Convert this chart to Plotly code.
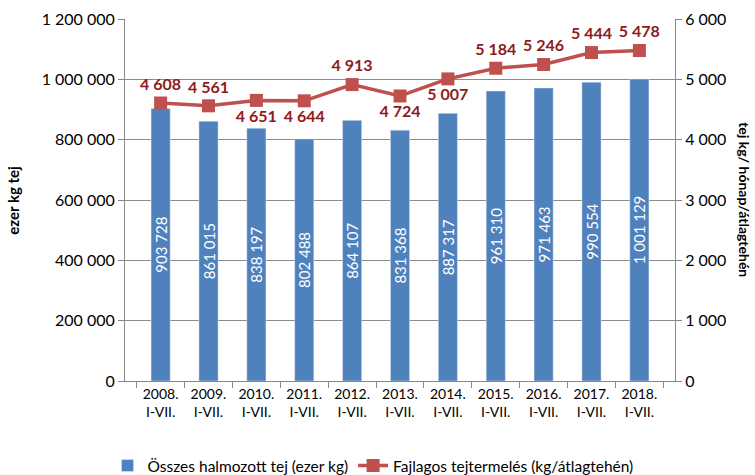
import plotly.graph_objects as go

categories = ["2008.<br>I-VII.", "2009.<br>I-VII.", "2010.<br>I-VII.", "2011.<br>I-VII.",
              "2012.<br>I-VII.", "2013.<br>I-VII.", "2014.<br>I-VII.", "2015.<br>I-VII.",
              "2016.<br>I-VII.", "2017.<br>I-VII.", "2018.<br>I-VII."]
total_milk = [903728, 861015, 838197, 802488, 864107, 831368, 887317, 961310, 971463, 990554, 1001129]
per_cow = [4608, 4561, 4651, 4644, 4913, 4724, 5007, 5184, 5246, 5444, 5478]
label_pos = ["top center", "top center", "bottom center", "bottom center", "top center",
             "bottom center", "bottom center", "top center", "top center", "top center", "top center"]

FONT = "Lato"
fig = go.Figure()
fig.add_trace(go.Bar(
    x=categories, y=total_milk, name="Összes halmozott tej (ezer kg)",
    marker=dict(color="#4F81BD"),
    text=[f"{v:,}".replace(",", " ") for v in total_milk],
    textposition="inside", insidetextanchor="middle", textangle=-90,
    textfont=dict(color="white", size=15, family=FONT),
    hoverinfo="skip",
))
fig.add_trace(go.Scatter(
    x=categories, y=per_cow, name="Fajlagos tejtermelés (kg/átlagtehén)", yaxis="y2",
    mode="lines+markers+text",
    line=dict(color="#C0504D", width=3.5),
    marker=dict(symbol="square", size=13, color="#C0504D"),
    text=[f"{v:,}".replace(",", " ") for v in per_cow],
    textposition=label_pos,
    textfont=dict(color="#8E1B1B", size=16, family=FONT, weight="bold"),
))
fig.update_layout(
    width=755, height=475,
    margin=dict(l=125, r=80, t=19, b=94, autoexpand=False),
    paper_bgcolor="white", plot_bgcolor="white",
    separators=", ",
    font=dict(family=FONT, size=15, color="black"),
    bargap=0.6,
    uniformtext=dict(minsize=15, mode="show"),
    showlegend=True,
    legend=dict(orientation="h", x=0.451, xanchor="center", yref="container", y=0.0547,
                yanchor="top", font=dict(size=15.5), tracegroupgap=0),
    xaxis=dict(showline=True, linecolor="#888888", ticks="outside", tickcolor="#888888",
               ticklen=6, tickson="boundaries", tickfont=dict(size=14), automargin=False),
    yaxis=dict(range=[0, 1200000], dtick=200000, tickformat=",d", showgrid=True,
               gridcolor="#8C8C8C", showline=True, linecolor="#888888", ticks="outside",
               tickcolor="#888888", ticklen=6, tickfont=dict(size=16), zeroline=False,
               automargin=False),
    yaxis2=dict(range=[0, 6000], dtick=1000, tickformat=",d", overlaying="y", side="right",
                showgrid=False, showline=True, linecolor="#888888", ticks="outside",
                tickcolor="#888888", ticklen=6, tickfont=dict(size=16), zeroline=False,
                automargin=False),
    annotations=[
        dict(text="<b>ezer kg tej</b>", textangle=-90, x=-0.204, y=0.5, xanchor="center",
             yanchor="middle", xref="paper", yref="paper", showarrow=False, font=dict(size=15)),
        dict(text="<b>tej kg/ hónap/átlagtehén</b>", textangle=90, x=1.127, y=0.5,
             xanchor="center", yanchor="middle",
             xref="paper", yref="paper", showarrow=False, font=dict(size=14)),
    ],
)
fig.write_html("out.html", config={"displayModeBar": False},
               post_script="document.body.style.margin='0';document.body.style.padding='0';")
